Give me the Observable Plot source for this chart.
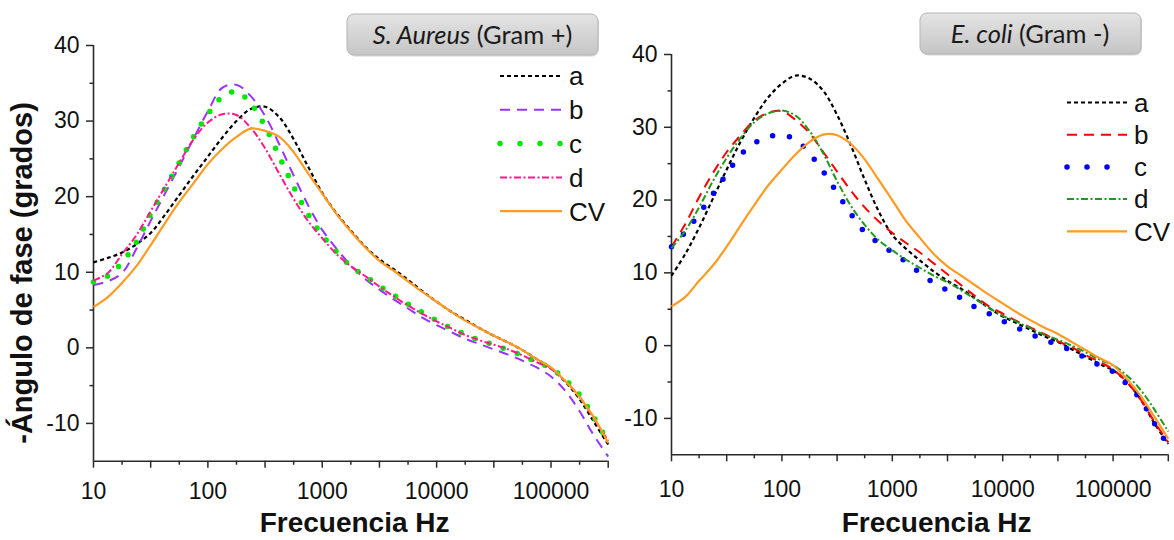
<!DOCTYPE html>
<html>
<head>
<meta charset="utf-8">
<script src="https://cdn.jsdelivr.net/npm/d3@7"></script>
<script src="https://cdn.jsdelivr.net/npm/@observablehq/plot@0.6"></script>
<style>
  body { margin: 0; background: #fff; }
  #wrap { position: relative; width: 1174px; height: 540px; overflow: hidden; background: #fff; }
  #wrap > div, #wrap > svg { position: absolute; top: 0; }
</style>
</head>
<body>
<div id="wrap">
  <div id="left" style="left:0"></div>
  <div id="right" style="left:600px"></div>
</div>
<script>
// Frequency grid (Hz), eight points per decade from 10 Hz to 10^5.5 Hz
const freqHz = [10, 13.34, 17.78, 23.71, 31.62, 42.17, 56.23, 74.99,
  100, 133.4, 177.8, 237.1, 316.2, 421.7, 562.3, 749.9,
  1000, 1334, 1778, 2371, 3162, 4217, 5623, 7499,
  10000, 13335, 17783, 23714, 31623, 42170, 56234, 74989,
  100000, 133352, 177828, 237137, 316228];

const seriesNames = ["a", "b", "c", "d", "CV"];

// -phase angle (degrees), S. aureus (Gram +)
const aureusA = [11.3, 11.9, 12.6, 13.7, 15.2, 17.6, 20.2, 22.8, 25.3, 27.8, 30.0, 31.6, 31.9, 30.5, 27.6, 24.0, 20.5, 17.8, 15.5, 13.4, 11.7, 10.4, 9.0, 7.5, 6.1, 4.8, 3.7, 2.6, 1.6, 0.7, -0.3, -1.5, -2.7, -4.5, -6.8, -9.8, -12.8];
const aureusB = [8.3, 8.8, 9.9, 13.1, 16.8, 20.4, 24.0, 27.7, 31.3, 34.4, 34.8, 33.3, 30.7, 26.9, 22.8, 18.9, 15.6, 13.1, 10.9, 9.1, 7.7, 6.4, 5.2, 4.0, 3.0, 2.1, 1.2, 0.5, -0.2, -0.9, -1.7, -2.6, -3.8, -5.7, -8.4, -11.6, -14.4];
const aureusC = [8.7, 9.5, 11.3, 14.0, 17.7, 21.1, 24.5, 27.9, 30.9, 33.2, 33.9, 32.3, 29.3, 25.3, 21.3, 17.7, 14.9, 12.7, 10.8, 9.5, 8.2, 7.0, 5.8, 4.7, 3.6, 2.6, 1.8, 1.0, 0.4, -0.3, -1.0, -1.9, -2.7, -4.2, -6.2, -9.2, -12.5];
const aureusD = [8.9, 9.9, 12.4, 14.9, 18.1, 21.3, 24.5, 27.6, 29.8, 30.9, 30.8, 29.1, 26.4, 23.0, 19.7, 16.8, 14.5, 12.4, 10.8, 9.5, 8.1, 6.8, 5.6, 4.5, 3.5, 2.6, 1.7, 1.0, 0.4, -0.2, -1.0, -1.9, -2.8, -4.4, -6.5, -9.4, -12.3];
const aureusCV = [5.4, 6.7, 8.6, 10.8, 13.6, 16.5, 19.3, 21.8, 24.3, 26.3, 27.9, 29.0, 28.7, 27.9, 25.9, 23.1, 20.4, 17.7, 15.4, 13.3, 11.5, 10.2, 8.8, 7.4, 6.1, 4.8, 3.6, 2.6, 1.6, 0.7, -0.3, -1.5, -2.6, -4.4, -6.5, -9.2, -12.6];

// -phase angle (degrees), E. coli (Gram -)
const coliA = [9.6, 12.6, 16.2, 20.2, 24.2, 28.0, 31.3, 34.1, 36.0, 37.1, 36.7, 35.0, 31.7, 27.5, 22.8, 18.5, 15.2, 13.3, 11.7, 10.2, 8.9, 7.8, 6.5, 5.2, 4.0, 3.1, 2.2, 1.3, 0.5, -0.5, -1.5, -2.5, -3.4, -5.0, -7.4, -10.7, -13.5];
const coliB = [13.6, 16.7, 20.4, 23.7, 26.6, 28.9, 30.9, 32.0, 32.2, 31.0, 29.2, 26.6, 23.9, 21.3, 19.0, 17.1, 15.5, 14.1, 12.8, 11.3, 9.8, 8.3, 6.8, 5.4, 4.4, 3.4, 2.5, 1.6, 0.6, -0.2, -1.3, -2.2, -3.3, -5.0, -7.4, -10.5, -13.3];
const coliC = [13.6, 15.6, 18.1, 20.8, 23.6, 26.2, 27.8, 28.7, 28.9, 28.3, 26.4, 23.9, 21.0, 18.1, 15.6, 14.1, 12.8, 11.5, 10.0, 8.6, 7.6, 6.5, 5.3, 4.4, 3.4, 2.5, 1.6, 0.8, 0.1, -0.7, -1.7, -2.7, -3.6, -5.3, -7.4, -10.7, -13.8];
const coliD = [13.4, 15.8, 19.0, 22.6, 25.8, 28.5, 30.7, 31.9, 32.3, 31.6, 29.5, 26.4, 22.6, 19.2, 16.6, 14.5, 13.1, 11.8, 10.7, 9.6, 8.7, 7.6, 6.4, 5.2, 4.1, 3.3, 2.4, 1.5, 0.8, 0.0, -0.9, -1.9, -2.7, -4.1, -6.1, -8.8, -11.8];
const coliCV = [5.4, 6.7, 8.9, 11.0, 13.6, 16.5, 19.3, 22.0, 24.2, 26.3, 28.0, 29.0, 28.9, 27.7, 25.6, 22.8, 20.0, 17.1, 14.8, 12.6, 10.9, 9.6, 8.3, 7.0, 5.8, 4.6, 3.5, 2.5, 1.6, 0.5, -0.6, -1.7, -2.7, -4.6, -6.9, -9.8, -12.8];

// Axis ticks and labels
const xMajor = [10, 100, 1000, 10000, 100000];
const xTickLabels = ["10", "100", "1000", "10000", "100000"];
const yMajor = [-10, 0, 10, 20, 30, 40];
const yTickLabels = ["-10", "0", "10", "20", "30", "40"];
const yMinor = [-5, 5, 15, 25, 35];

const xDomain = [10, Math.pow(10, 5.5)];
const yDomain = [-15, 40];

// Origin-style log minor ticks: quarter decades, half decades a bit longer
const xHalf = d3.range(1.5, 5.51, 1).map(l => Math.pow(10, l));
const xQuarter = d3.range(1.25, 5.5, 0.5).map(l => Math.pow(10, l));

const styleAureus = [
  {stroke: "#000000", dash: "4,3", width: 2.2, cap: "butt", legendDash: "4,3"},
  {stroke: "#9933ff", dash: "10,7", width: 2, cap: "butt", legendDash: "10,7"},
  {stroke: "#00e800", dash: "0,15", width: 5.5, cap: "round", legendDash: "0,20"},
  {stroke: "#ff1a8c", dash: "7,2.5,2,2.5", width: 2, cap: "butt", legendDash: "7,2.5,2,2.5"},
  {stroke: "#ff9a22", dash: null, width: 2.2, cap: "butt", legendDash: null}
];
const styleColi = [
  {stroke: "#000000", dash: "4,3", width: 2.2, cap: "butt", legendDash: "4,3"},
  {stroke: "#ff0000", dash: "10,7", width: 2, cap: "butt", legendDash: "10,7"},
  {stroke: "#0000ff", dash: "0,17", width: 5.5, cap: "round", legendDash: "0,20"},
  {stroke: "#1f9a1f", dash: "7,2.5,2,2.5", width: 2, cap: "butt", legendDash: "7,2.5,2,2.5"},
  {stroke: "#ff9a22", dash: null, width: 2.2, cap: "butt", legendDash: null}
];

const axisColor = "#2a2a2a";
const font = "'Liberation Sans', Arial, Helvetica, sans-serif";

function panel({series, styles, width, margins, xPad}) {
  const lines = series.map((vals, k) => Plot.line(vals, {
    x: (d, i) => freqHz[i],
    y: d => d,
    curve: "catmull-rom",
    stroke: styles[k].stroke,
    strokeWidth: styles[k].width,
    strokeDasharray: styles[k].dash || undefined,
    strokeLinecap: styles[k].cap
  }));
  return Plot.plot({
    width, height: 540,
    marginLeft: margins[0], marginRight: margins[1], marginTop: margins[2], marginBottom: margins[3],
    x: {type: "log", domain: xDomain},
    y: {type: "linear", domain: yDomain},
    style: {fontFamily: font, background: "transparent", overflow: "visible", color: "#111"},
    marks: [
      Plot.axisY(yMajor, {tickSize: 7, tickPadding: 7, fontSize: 23, label: null,
        stroke: axisColor, strokeWidth: 1.5, fill: "#111",
        tickFormat: d => yTickLabels[yMajor.indexOf(d)]}),
      Plot.axisY(yMinor, {tickSize: 3.5, label: null, stroke: axisColor, strokeWidth: 1.5, tickFormat: () => ""}),
      Plot.axisX(xMajor, {tickSize: 7, tickPadding: xPad, fontSize: 23, label: null,
        stroke: axisColor, strokeWidth: 1.5, fill: "#111",
        tickFormat: d => xTickLabels[xMajor.indexOf(d)]}),
      Plot.axisX(xHalf, {tickSize: 7, label: null, stroke: axisColor, strokeWidth: 1.5, tickFormat: () => ""}),
      Plot.axisX(xQuarter, {tickSize: 4, label: null, stroke: axisColor, strokeWidth: 1.5, tickFormat: () => ""}),
      Plot.ruleX([xDomain[0]], {stroke: axisColor, strokeWidth: 1.6}),
      Plot.ruleY([yDomain[0]], {stroke: axisColor, strokeWidth: 1.6}),
      ...lines
    ]
  });
}

document.getElementById("left").append(panel({
  series: [aureusA, aureusB, aureusC, aureusD, aureusCV],
  styles: styleAureus,
  width: 615,
  margins: [93, 7.3, 45, 79.3],
  xPad: 14.7
}));

document.getElementById("right").append(panel({
  series: [coliA, coliB, coliC, coliD, coliCV],
  styles: styleColi,
  width: 574,
  margins: [71, 6.2, 54, 85.7],
  xPad: 19
}));

// Titles, axis titles and legends drawn on a page-wide layer
const deco = d3.select("#wrap").append("svg")
  .attr("width", 1174).attr("height", 540)
  .style("left", "0px").style("pointer-events", "none");

const defs = deco.append("defs");
const grad = defs.append("linearGradient").attr("id", "boxFill")
  .attr("x1", 0).attr("y1", 0).attr("x2", 0).attr("y2", 1);
grad.append("stop").attr("offset", "0%").attr("stop-color", "#e4e4e4");
grad.append("stop").attr("offset", "100%").attr("stop-color", "#c5c5c5");

const panelTitles = [
  {x: 347, y: 14, w: 251, h: 41, italic: "S. Aureus", rest: " (Gram +)", cx: 472.5},
  {x: 920, y: 13, w: 221, h: 41, italic: "E. coli", rest: " (Gram -)", cx: 1030}
];
for (const t of panelTitles) {
  deco.append("rect").attr("x", t.x + 1).attr("y", t.y + 1.5).attr("width", t.w).attr("height", t.h)
    .attr("rx", 7).attr("fill", "#d8d8d8");
  deco.append("rect").attr("x", t.x).attr("y", t.y).attr("width", t.w).attr("height", t.h)
    .attr("rx", 7).attr("fill", "url(#boxFill)").attr("stroke", "#b4b4b4").attr("stroke-width", 1);
  const tx = deco.append("text").attr("x", t.cx).attr("y", t.y + 29.5)
    .attr("text-anchor", "middle").attr("font-family", "Lato, 'Open Sans', sans-serif")
    .attr("font-size", 25.5).attr("fill", "#1a1a1a");
  tx.append("tspan").attr("font-style", "italic").text(t.italic);
  tx.append("tspan").text(t.rest);
}

// Axis titles
for (const cx of [354.6, 936.6]) {
  deco.append("text").attr("x", cx).attr("y", 532)
    .attr("text-anchor", "middle").attr("font-family", font)
    .attr("font-weight", "bold").attr("font-size", 28).attr("fill", "#111")
    .text("Frecuencia Hz");
}
deco.append("text").attr("transform", "translate(31.5,273) rotate(-90)")
  .attr("text-anchor", "middle").attr("font-family", font)
  .attr("font-weight", "bold").attr("font-size", 29).attr("fill", "#111")
  .text("-Ángulo de fase (grados)");

// Legends
function legend(x0, x1, y0, dy, styles) {
  seriesNames.forEach((name, i) => {
    const y = y0 + i * dy;
    const s = styles[i];
    deco.append("line").attr("x1", x0).attr("x2", x1).attr("y1", y).attr("y2", y)
      .attr("stroke", s.stroke).attr("stroke-width", s.width)
      .attr("stroke-dasharray", s.legendDash)
      .attr("stroke-linecap", s.cap);
    deco.append("text").attr("x", x1 + 7).attr("y", y + 9.3)
      .attr("font-family", font).attr("font-size", 26).attr("fill", "#111")
      .text(name);
  });
}
legend(500, 562, 76, 33.8, styleAureus);
legend(1067, 1127, 102.5, 32.2, styleColi);
</script>
</body>
</html>
